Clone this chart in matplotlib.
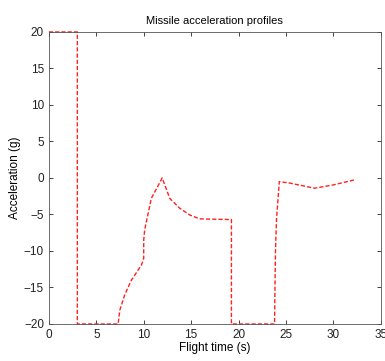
import matplotlib
matplotlib.use("Agg")
import matplotlib.pyplot as plt

# acceleration profile
t = [0.0, 3.0, 3.0, 7.3, 7.48, 8.0, 8.7, 9.77, 10.0, 10.0, 10.1, 10.47, 10.8, 11.95,
     12.75, 13.8, 14.86, 15.9, 19.25, 19.25, 23.8, 23.85, 23.9, 24.0, 24.3, 25.4,
     28.0, 29.96, 32.2]
acc = [20.0, 20.0, -20.0, -20.0, -18.1, -16.0, -14.0, -11.9, -11.0, -8.5, -7.1, -4.84,
       -2.8, 0.0, -2.8, -4.15, -5.07, -5.6, -5.7, -20.0, -20.0, -14.2, -9.9, -5.75,
       -0.5, -0.7, -1.4, -0.96, -0.27]

plt.rcParams["font.family"] = ["Liberation Sans", "DejaVu Sans"]

fig = plt.figure(figsize=(3.85, 3.61), dpi=100)
ax = fig.add_axes([0.127, 0.1025, 0.862, 0.809])
ax.plot(t, acc, "--", color="#ff2020", lw=1.0, dashes=(3, 1.5), clip_on=False)
ax.set_xlim(0, 35)
ax.set_ylim(-20, 20)
ax.set_xticks(range(0, 36, 5))
ax.set_yticks(range(-20, 21, 5))
ax.tick_params(direction="in", top=True, right=True, labelsize=8.5, length=3, width=0.6,
               colors="#222222")
for s in ax.spines.values():
    s.set_linewidth(0.6)
    s.set_color("#555555")
ax.set_xlabel("Flight time (s)", fontsize=8.5, labelpad=1)
ax.set_ylabel("Acceleration (g)", fontsize=8.5, labelpad=2)
ax.set_title("Missile acceleration profiles", fontsize=8, pad=6)
fig.savefig("out.png", dpi=100)
